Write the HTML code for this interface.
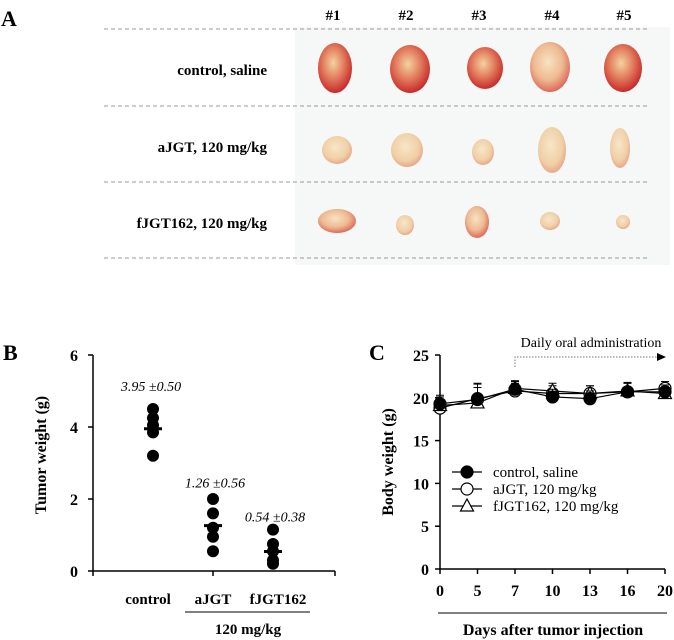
<!DOCTYPE html>
<html><head><meta charset="utf-8"><style>
html,body{margin:0;padding:0;background:#fff;}
svg{display:block;font-family:"Liberation Serif",serif;}
</style></head><body>
<svg width="674" height="640" viewBox="0 0 674 640">
<defs>
<radialGradient id="gRed" cx="45%" cy="40%" r="60%"><stop offset="0" stop-color="#f3d3a0"/><stop offset="0.5" stop-color="#e38060"/><stop offset="1" stop-color="#c82a2a"/></radialGradient>
<radialGradient id="gPale" cx="45%" cy="40%" r="60%"><stop offset="0" stop-color="#f7e6c8"/><stop offset="0.7" stop-color="#f0cfa6"/><stop offset="1" stop-color="#e8a88a"/></radialGradient>
<radialGradient id="gPaleR" cx="45%" cy="40%" r="60%"><stop offset="0" stop-color="#f7e3c2"/><stop offset="0.6" stop-color="#eeba92"/><stop offset="1" stop-color="#dd6a5a"/></radialGradient>
</defs>
<!-- Panel A -->
<g>
<text x="1" y="26" font-size="22" font-weight="bold">A</text>
<rect x="295" y="27" width="375" height="238" fill="#f6f7f7"/>
<g font-size="15" font-weight="bold" text-anchor="middle">
<text x="333" y="20">#1</text><text x="406" y="20">#2</text><text x="479" y="20">#3</text><text x="552" y="20">#4</text><text x="624" y="20">#5</text>
</g>
<g stroke="#999" stroke-dasharray="4,3" stroke-width="1">
<line x1="104" y1="29" x2="649" y2="29"/><line x1="104" y1="106" x2="649" y2="106"/><line x1="104" y1="182" x2="649" y2="182"/><line x1="104" y1="258" x2="649" y2="258"/>
</g>
<g font-size="15" font-weight="bold" text-anchor="end">
<text x="267" y="75">control, saline</text><text x="267" y="152">aJGT, 120 mg/kg</text><text x="267" y="228">fJGT162, 120 mg/kg</text>
</g>
<g>
<ellipse cx="335" cy="68" rx="17" ry="25" fill="url(#gRed)"/>
<ellipse cx="410" cy="69" rx="20" ry="24" fill="url(#gRed)"/>
<ellipse cx="485" cy="68" rx="18" ry="21" fill="url(#gRed)"/>
<ellipse cx="550" cy="67" rx="20" ry="25" fill="url(#gPaleR)"/>
<ellipse cx="623" cy="68" rx="19" ry="24" fill="url(#gRed)"/>
<ellipse cx="337" cy="150" rx="15" ry="14" fill="url(#gPale)"/>
<ellipse cx="407" cy="150" rx="16" ry="17" fill="url(#gPale)"/>
<ellipse cx="483" cy="152" rx="11" ry="13" fill="url(#gPale)"/>
<ellipse cx="552" cy="150" rx="14" ry="23" fill="url(#gPale)"/>
<ellipse cx="620" cy="148" rx="10" ry="20" fill="url(#gPale)"/>
<ellipse cx="337" cy="221" rx="19" ry="12" fill="url(#gPaleR)"/>
<ellipse cx="405" cy="225" rx="9" ry="10" fill="url(#gPale)"/>
<ellipse cx="477" cy="222" rx="12" ry="16" fill="url(#gPaleR)"/>
<ellipse cx="550" cy="221" rx="10" ry="9" fill="url(#gPale)"/>
<ellipse cx="623" cy="222" rx="7" ry="7" fill="url(#gPale)"/>
</g>
</g>
<text x="3" y="360" font-size="22" font-weight="bold">B</text>
<text x="369" y="360" font-size="22" font-weight="bold">C</text>
<g id="chartB"></g>
<g id="chartC"></g>
</svg>
<script>
const NS='http://www.w3.org/2000/svg';
function mk(parent,tag,attrs,txt){const e=document.createElementNS(NS,tag);for(const k in attrs)e.setAttribute(k,attrs[k]);if(txt!==undefined)e.textContent=txt;parent.appendChild(e);return e;}

// ---- Panel B data ----
const bGroups=['control','aJGT','fJGT162'];
const bControl=[4.5,4.25,4.05,3.85,3.2];
const bAJGT=[2.0,1.6,1.2,0.95,0.55];
const bFJGT=[1.15,0.75,0.55,0.3,0.2];
const bMeans=[3.95,1.26,0.54];
const bSD=[0.50,0.56,0.38];
const bTicks=[0,2,4,6];

const B=document.getElementById('chartB');
const byS=v=>571-v*36;
const bxS=i=>153+i*60;
let e;
e=mk(B,'line',{x1:93,y1:355,x2:93,y2:571,stroke:'#000','stroke-width':1.5});

e=mk(B,'line',{x1:93,y1:571,x2:335,y2:571,stroke:'#000','stroke-width':1.5});

[93,213,335].forEach(x=>{mk(B,'line',{x1:x,y1:571,x2:x,y2:576,stroke:'#000','stroke-width':1.5});});
bTicks.forEach(t=>{
  mk(B,'line',{x1:88,y1:byS(t),x2:93,y2:byS(t),stroke:'#000','stroke-width':1.5});
  e=mk(B,'text',{x:78,y:byS(t)+6,'font-size':16,'font-weight':'bold','text-anchor':'end'},String(t));
  
});
e=mk(B,'text',{x:0,y:0,'font-size':16,'font-weight':'bold','text-anchor':'middle',transform:'translate(46,455) rotate(-90)'},'Tumor weight (g)');

[bControl,bAJGT,bFJGT].forEach((arr,i)=>{
  arr.forEach(v=>{
    e=mk(B,'circle',{cx:bxS(i),cy:byS(v),r:6,fill:'#000'});
    
  });
  e=mk(B,'line',{x1:bxS(i)-9,y1:byS(bMeans[i]),x2:bxS(i)+9,y2:byS(bMeans[i]),stroke:'#000','stroke-width':3});
  
  e=mk(B,'text',{x:bxS(i)+[-2,2,2][i],y:byS(bMeans[i])-[38,38,30][i]-(i==0?0:0),'font-size':14,'font-style':'italic','text-anchor':'middle'},bMeans[i].toFixed(2)+' \u00b1'+bSD[i].toFixed(2));
  
  e=mk(B,'text',{x:bxS(i)+[-5,0,5][i],y:604,'font-size':15,'font-weight':'bold','text-anchor':'middle'},bGroups[i]);
  
});
mk(B,'line',{x1:185,y1:612,x2:310,y2:612,stroke:'#000','stroke-width':1});
e=mk(B,'text',{x:248,y:634,'font-size':15,'font-weight':'bold','text-anchor':'middle'},'120 mg/kg');


// ---- Panel C data ----
const cDays=['0','5','7','10','13','16','20'];
const cControl=[19.3,19.8,21.0,20.1,19.9,20.7,20.7];
const cAJGT=[18.8,19.9,20.8,20.5,20.5,20.7,21.1];
const cFJGT=[19.1,19.4,21.1,20.8,20.5,20.8,20.5];
const cErr=[1.0,1.8,0.9,0.9,0.9,1.0,0.8];
const cTicks=[0,5,10,15,20,25];

const C=document.getElementById('chartC');
const cyS=v=>569-v*8.56;
const cxS=i=>440+i*37.5;
e=mk(C,'line',{x1:440,y1:355,x2:440,y2:569,stroke:'#000','stroke-width':1.5});

e=mk(C,'line',{x1:440,y1:569,x2:665,y2:569,stroke:'#000','stroke-width':1.5});

cTicks.forEach(t=>{
  mk(C,'line',{x1:435,y1:cyS(t),x2:440,y2:cyS(t),stroke:'#000','stroke-width':1.5});
  e=mk(C,'text',{x:429,y:cyS(t)+6,'font-size':16,'font-weight':'bold','text-anchor':'end'},String(t));
  
});
cDays.forEach((d,i)=>{
  mk(C,'line',{x1:cxS(i),y1:569,x2:cxS(i),y2:574,stroke:'#000','stroke-width':1.5});
  e=mk(C,'text',{x:cxS(i),y:596,'font-size':16,'font-weight':'bold','text-anchor':'middle'},d);
  
});
e=mk(C,'text',{x:0,y:0,'font-size':16,'font-weight':'bold','text-anchor':'middle',transform:'translate(393,462) rotate(-90)'},'Body weight (g)');

mk(C,'line',{x1:438,y1:613,x2:667,y2:613,stroke:'#000','stroke-width':1});
e=mk(C,'text',{x:553,y:635,'font-size':16,'font-weight':'bold','text-anchor':'middle'},'Days after tumor injection');

// daily admin arrow
mk(C,'polyline',{points:cxS(2)+',367 '+cxS(2)+',357 657,357',fill:'none',stroke:'#777','stroke-width':1,'stroke-dasharray':'1.5,1.5'});
mk(C,'polygon',{points:'657,353 666,357 657,361',fill:'#000'});
e=mk(C,'text',{x:591,y:347,'font-size':14,'text-anchor':'middle'},'Daily oral administration');


function marker(g,type,x,y){
  if(type==='tri') return mk(g,'polygon',{points:(x-6.5)+','+(y+5)+' '+(x+6.5)+','+(y+5)+' '+x+','+(y-7),fill:'#fff',stroke:'#000','stroke-width':1.2});
  return mk(g,'circle',{cx:x,cy:y,r:6,fill:type==='fill'?'#000':'#fff',stroke:'#000','stroke-width':1.2});
}
const series=[[cAJGT,'open','c-series-ajgt'],[cFJGT,'tri','c-series-fjgt'],[cControl,'fill','c-series-control']];
series.forEach(([arr,type,name])=>{
  const g=mk(C,'g',{});
  
  
  arr.forEach((v,i)=>{mk(g,'line',{x1:cxS(i),y1:cyS(v),x2:cxS(i),y2:cyS(v+cErr[i]),stroke:'#000','stroke-width':1});
    mk(g,'line',{x1:cxS(i)-4,y1:cyS(v+cErr[i]),x2:cxS(i)+4,y2:cyS(v+cErr[i]),stroke:'#000','stroke-width':1});});
  mk(g,'polyline',{points:arr.map((v,i)=>cxS(i)+','+cyS(v)).join(' '),fill:'none',stroke:'#000','stroke-width':1.2});
  arr.forEach((v,i)=>{e=marker(g,type,cxS(i),cyS(v));});
});
// legend
const legend=[['fill','control, saline'],['open','aJGT, 120 mg/kg'],['tri','fJGT162, 120 mg/kg']];
legend.forEach(([type,label],i)=>{
  const y=472+i*17;
  const g=mk(C,'g',{});
  
  
  mk(g,'line',{x1:452,y1:y,x2:482,y2:y,stroke:'#000','stroke-width':1.2});
  marker(g,type,467,y);
  mk(g,'text',{x:493,y:y+5,'font-size':15},label);
});
</script>
</body></html>
